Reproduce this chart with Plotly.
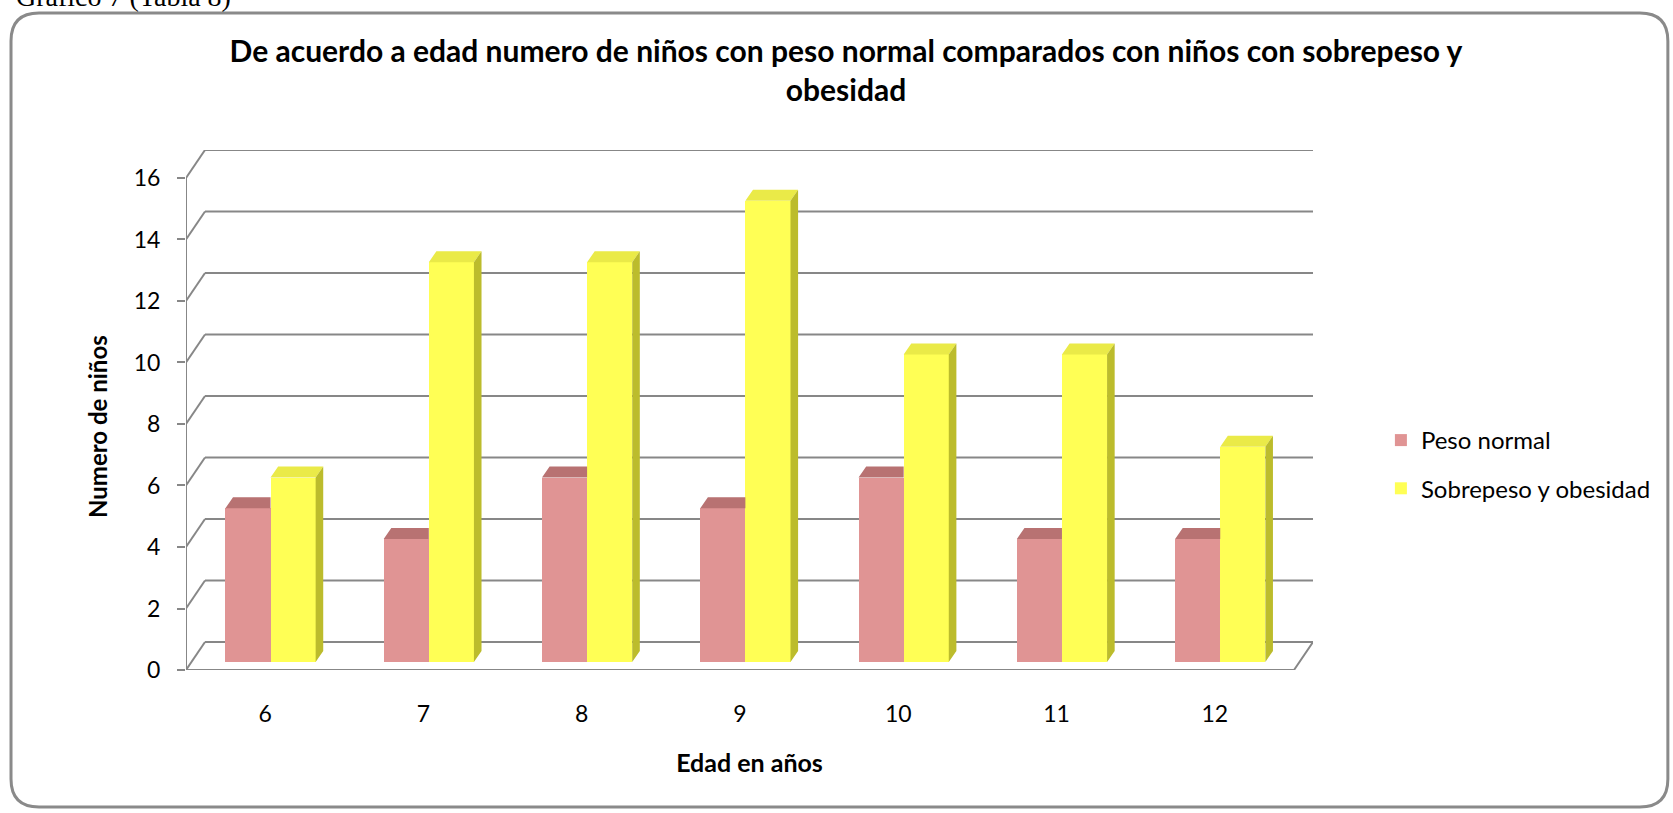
import plotly.graph_objects as go

# ---------------- data ----------------
ages = ["6", "7", "8", "9", "10", "11", "12"]
peso_normal = [5, 4, 6, 5, 6, 4, 4]
sobrepeso = [6, 13, 13, 15, 10, 10, 7]
y_ticks = [0, 2, 4, 6, 8, 10, 12, 14, 16]
series_names = ["Peso normal", "Sobrepeso y obesidad"]

title_text = ("De acuerdo a edad numero de niños con peso normal comparados con niños con sobrepeso y"
              "<br>obesidad")
x_title = "Edad en años"
y_title = "Numero de niños"
caption = "Gráfico 7 (Tabla 8)"

# ---------------- styles / geometry ----------------
W, H = 1673, 813
PX_PER_X = 158.3
PX_PER_Y = 30.75
AXIS_X_PX = 186          # pixel of front y-axis
ZERO_Y_PX = 670          # pixel of value 0 at front

DEPTH_X = 0.12           # back wall offset (category units)
DEPTH_Y = 0.91           # back wall offset (value units)
X_MIN = -0.5
X_MAX = len(ages) - 0.5 + DEPTH_X
Y_MIN = 0
Y_MAX = y_ticks[-1] + DEPTH_Y

L = AXIS_X_PX
R = W - (L + (X_MAX - X_MIN) * PX_PER_X)
B = H - ZERO_Y_PX
T = ZERO_Y_PX - (Y_MAX - Y_MIN) * PX_PER_Y
plot_w = W - L - R
plot_h = H - T - B

BAR_W = 0.285
BAR_SHIFT_X = 0.034
BAR_BASE = 0.26
BAR_DX = 0.048
BAR_DY = 0.36

GRID = "#878787"
PINK = "#E09494"
PINK_TOP = "#B87272"
YEL = "#FFFF55"
YEL_TOP = "#EAEA48"
YEL_SIDE = "#BCBC2C"
FONT = "Lato"


def px_x(px):
    return (px - L) / plot_w


def px_y(py):
    return (H - B - py) / plot_h


fig = go.Figure()

# front faces of bars
fig.add_trace(go.Bar(
    x=list(range(len(ages))), y=peso_normal, base=BAR_BASE, width=BAR_W,
    offset=-BAR_W + BAR_SHIFT_X, name=series_names[0],
    marker=dict(color=PINK, line=dict(width=0)), legendgroup="a",
))
fig.add_trace(go.Bar(
    x=list(range(len(ages))), y=sobrepeso, base=BAR_BASE, width=BAR_W,
    offset=BAR_SHIFT_X, name=series_names[1],
    marker=dict(color=YEL, line=dict(width=0)), legendgroup="b",
))

# top / side faces (3D look)
def add_poly(xs, ys, color):
    fig.add_trace(go.Scatter(x=xs, y=ys, mode="lines", fill="toself", fillcolor=color,
                             line=dict(width=0, color=color), hoverinfo="skip",
                             showlegend=False))

px_, py_ = [], []
for i, v in enumerate(peso_normal):
    xl = i - BAR_W + BAR_SHIFT_X
    xr = i + BAR_SHIFT_X
    top = BAR_BASE + v
    if sobrepeso[i] >= v:
        pts = [(xl, top), (xl + BAR_DX, top + BAR_DY), (xr, top + BAR_DY), (xr, top)]
    else:
        pts = [(xl, top), (xl + BAR_DX, top + BAR_DY), (xr + BAR_DX, top + BAR_DY), (xr, top)]
    for p in pts + [pts[0]]:
        px_.append(p[0]); py_.append(p[1])
    px_.append(None); py_.append(None)
add_poly(px_, py_, PINK_TOP)

tx, ty, sx, sy = [], [], [], []
for i, v in enumerate(sobrepeso):
    xl = i + BAR_SHIFT_X
    xr = xl + BAR_W
    top = BAR_BASE + v
    pts = [(xl, top), (xl + BAR_DX, top + BAR_DY), (xr + BAR_DX, top + BAR_DY), (xr, top)]
    for p in pts + [pts[0]]:
        tx.append(p[0]); ty.append(p[1])
    tx.append(None); ty.append(None)
    pts = [(xr, BAR_BASE), (xr + BAR_DX, BAR_BASE + BAR_DY), (xr + BAR_DX, top + BAR_DY), (xr, top)]
    for p in pts + [pts[0]]:
        sx.append(p[0]); sy.append(p[1])
    sx.append(None); sy.append(None)
add_poly(tx, ty, YEL_TOP)
add_poly(sx, sy, YEL_SIDE)

# boundary lines (not clipped)
x_front_end = len(ages) - 0.5
bx = [X_MIN, X_MIN, None, X_MIN, x_front_end, X_MAX, None, X_MIN + DEPTH_X, X_MAX]
by = [Y_MIN, y_ticks[-1], None, Y_MIN, Y_MIN, Y_MIN + DEPTH_Y, None, Y_MAX, Y_MAX]
fig.add_trace(go.Scatter(x=bx, y=by, mode="lines", line=dict(color=GRID, width=2),
                         cliponaxis=False, hoverinfo="skip", showlegend=False))

# interior grid: back wall lines + left wall slants
shapes = []
for v in y_ticks:
    shapes.append(dict(type="line", xref="x", yref="y", layer="below",
                       x0=X_MIN, y0=v, x1=X_MIN + DEPTH_X, y1=v + DEPTH_Y,
                       line=dict(color=GRID, width=2)))
    if v != y_ticks[-1]:
        shapes.append(dict(type="line", xref="x", yref="y", layer="below",
                           x0=X_MIN + DEPTH_X, y0=v + DEPTH_Y, x1=X_MAX, y1=v + DEPTH_Y,
                           line=dict(color=GRID, width=2)))

# rounded outer frame
fx0, fy0, fx1, fy1, rr = 11, 13, 1668, 807, 28
def P(x, y):
    return f"{px_x(x):.5f},{px_y(y):.5f}"
path = (f"M{P(fx0 + rr, fy0)} L{P(fx1 - rr, fy0)} Q{P(fx1, fy0)} {P(fx1, fy0 + rr)} "
        f"L{P(fx1, fy1 - rr)} Q{P(fx1, fy1)} {P(fx1 - rr, fy1)} "
        f"L{P(fx0 + rr, fy1)} Q{P(fx0, fy1)} {P(fx0, fy1 - rr)} "
        f"L{P(fx0, fy0 + rr)} Q{P(fx0, fy0)} {P(fx0 + rr, fy0)} Z")
shapes.append(dict(type="path", xref="paper", yref="paper", path=path, layer="below",
                   line=dict(color="#8A8A8A", width=3)))

fig.update_layout(
    width=W, height=H,
    margin=dict(l=L, r=R, t=T, b=B, pad=0),
    paper_bgcolor="white", plot_bgcolor="rgba(0,0,0,0)",
    barmode="overlay", bargap=0,
    font=dict(family=FONT, color="black"),
    shapes=shapes,
    title=dict(text=title_text, x=846 / W, xanchor="center", y=1 - 62 / H, yanchor="top",
               font=dict(family=FONT, size=30, weight="bold", color="black")),
    xaxis=dict(range=[X_MIN, X_MAX], tickvals=list(range(len(ages))), ticktext=ages,
               showgrid=False, zeroline=False, showline=False, ticks="",
               ticklabelstandoff=28, tickfont=dict(size=23, color="black"),
               title=dict(text=x_title, standoff=28,
                          font=dict(size=25, weight="bold", color="black"))),
    yaxis=dict(range=[Y_MIN, Y_MAX], tickvals=y_ticks, showgrid=False, zeroline=False,
               showline=False, ticks="outside", ticklen=8, tickwidth=2, tickcolor=GRID,
               ticklabelstandoff=12, tickfont=dict(size=23, color="black")),
    legend=dict(x=px_x(1381), y=px_y(418), xanchor="left", yanchor="top",
                font=dict(size=24, color="black"), tracegroupgap=14,
                bgcolor="rgba(0,0,0,0)"),
    annotations=[
        dict(text=caption, xref="paper", yref="paper", x=px_x(14), y=px_y(14),
             xanchor="left", yanchor="bottom", showarrow=False,
             font=dict(family="Liberation Serif", size=28, color="black")),
        dict(text=y_title, xref="paper", yref="paper", x=px_x(98), y=px_y(427),
             xanchor="center", yanchor="middle", textangle=-90, showarrow=False,
             font=dict(family=FONT, size=24, weight="bold", color="black")),
    ],
)

fig.write_html("out.html")
